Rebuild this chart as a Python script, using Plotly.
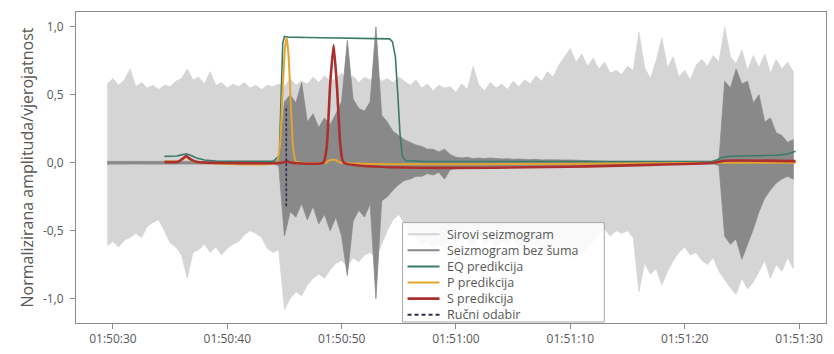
import numpy as np
import pandas as pd
import plotly.graph_objects as go

# ---------------------------------------------------------------------------
# Data (seconds after 01:50:00); seismogram traces sampled every 0.5 s as
# upper / lower envelope of the normalised amplitude.
# ---------------------------------------------------------------------------
BASE = pd.Timestamp("2021-01-01 01:50:00")
T_START = 29.5
T_STEP = 0.5

raw_upper = [
    0.58, 0.62, 0.57, 0.61, 0.69, 0.56, 0.59, 0.55, 0.57, 0.54,
    0.57, 0.56, 0.60, 0.62, 0.69, 0.61, 0.63, 0.58, 0.67, 0.57,
    0.59, 0.55, 0.58, 0.56, 0.59, 0.55, 0.57, 0.54, 0.57, 0.56,
    0.58, 0.56, 0.62, 0.57, 0.60, 0.58, 0.63, 0.59, 0.64, 0.60,
    0.62, 0.66, 0.60, 0.64, 0.59, 0.63, 0.61, 0.65, 0.60, 0.62,
    0.59, 0.63, 0.60, 0.57, 0.61, 0.55, 0.58, 0.53, 0.57, 0.55,
    0.56, 0.52, 0.58, 0.54, 0.71, 0.57, 0.53, 0.59, 0.55, 0.58,
    0.54, 0.60, 0.56, 0.61, 0.58, 0.64, 0.60, 0.67, 0.63, 0.72,
    0.78, 0.84, 0.74, 0.80, 0.71, 0.77, 0.69, 0.74, 0.66, 0.68,
    0.65, 0.71, 0.68, 0.96, 0.70, 0.62, 0.75, 0.92, 0.70, 0.78,
    0.63, 0.68, 0.61, 0.72, 0.76, 0.71, 0.79, 0.74, 1.00, 0.78,
    0.73, 0.83, 0.68, 0.79, 0.70, 0.80, 0.66, 0.76, 0.69, 0.74,
    0.67,
]
raw_lower = [
    -0.61, -0.58, -0.62, -0.57, -0.55, -0.52, -0.55, -0.47, -0.44, -0.42,
    -0.50, -0.59, -0.62, -0.68, -0.85, -0.66, -0.64, -0.60, -0.66, -0.62,
    -0.68, -0.63, -0.60, -0.58, -0.53, -0.50, -0.52, -0.55, -0.63, -0.66,
    -0.64, -1.08, -1.00, -0.95, -0.98, -0.90, -0.85, -0.82, -0.85, -0.79,
    -0.74, -0.72, -0.76, -0.70, -0.73, -0.68, -0.66, -0.70, -0.60, -0.50,
    -0.42, -0.38, -0.45, -0.52, -0.56, -0.60, -0.58, -0.62, -0.60, -0.63,
    -0.55, -0.60, -0.52, -0.58, -0.62, -0.55, -0.60, -0.57, -0.63, -0.58,
    -0.60, -0.56, -0.62, -0.58, -0.64, -0.60, -0.66, -0.62, -0.68, -0.64,
    -0.66, -0.70, -0.65, -0.68, -0.62, -0.58, -0.52, -0.49, -0.54, -0.50,
    -0.52, -0.50, -0.55, -0.95, -0.74, -0.82, -0.78, -0.90, -0.80, -0.72,
    -0.66, -0.62, -0.68, -0.66, -0.72, -0.75, -0.70, -0.80, -0.86, -0.92,
    -0.97, -0.85, -0.93, -0.88, -0.80, -0.72, -0.85, -0.75, -0.80, -0.70,
    -0.78,
]
den_upper = [
    0.010, 0.010, 0.008, 0.010, 0.009, 0.010, 0.008, 0.010, 0.009, 0.010,
    0.010, 0.008, 0.010, 0.009, 0.010, 0.010, 0.008, 0.010, 0.009, 0.010,
    0.010, 0.008, 0.010, 0.009, 0.010, 0.010, 0.008, 0.010, 0.009, 0.010,
    0.02, 0.45, 0.50, 0.44, 0.59, 0.30, 0.36, 0.26, 0.33, 0.28,
    0.36, 0.45, 0.90, 0.47, 0.40, 0.38, 0.45, 1.00, 0.35, 0.30,
    0.23, 0.20, 0.17, 0.15, 0.13, 0.12, 0.10, 0.10, 0.08, 0.10,
    0.06, 0.040, 0.035, 0.040, 0.030, 0.035, 0.030, 0.035, 0.030, 0.028,
    0.030, 0.025, 0.028, 0.025, 0.022, 0.025, 0.020, 0.022, 0.020, 0.022,
    0.020, 0.020, 0.018, 0.020, 0.016, 0.015, 0.012, 0.010, 0.010, 0.010,
    0.010, 0.010, 0.008, 0.010, 0.009, 0.010, 0.010, 0.008, 0.010, 0.009,
    0.010, 0.010, 0.008, 0.010, 0.009, 0.010, 0.010, 0.02, 0.60, 0.55,
    0.69, 0.58, 0.60, 0.44, 0.50, 0.30, 0.33, 0.22, 0.20, 0.15,
    0.17,
]
den_lower = [
    -0.010, -0.010, -0.008, -0.010, -0.009, -0.010, -0.008, -0.010, -0.009, -0.010,
    -0.010, -0.008, -0.010, -0.009, -0.010, -0.010, -0.008, -0.010, -0.009, -0.010,
    -0.010, -0.008, -0.010, -0.009, -0.010, -0.010, -0.008, -0.010, -0.009, -0.010,
    -0.02, -0.54, -0.36, -0.40, -0.30, -0.42, -0.32, -0.45, -0.38, -0.50,
    -0.40, -0.54, -0.83, -0.43, -0.35, -0.40, -0.30, -1.00, -0.28, -0.25,
    -0.20, -0.16, -0.13, -0.12, -0.10, -0.10, -0.08, -0.09, -0.07, -0.12,
    -0.05, -0.040, -0.035, -0.030, -0.035, -0.030, -0.030, -0.028, -0.030, -0.025,
    -0.025, -0.022, -0.025, -0.020, -0.022, -0.020, -0.020, -0.018, -0.020, -0.018,
    -0.018, -0.016, -0.016, -0.015, -0.014, -0.012, -0.010, -0.010, -0.010, -0.010,
    -0.010, -0.010, -0.008, -0.010, -0.009, -0.010, -0.010, -0.008, -0.010, -0.009,
    -0.010, -0.010, -0.008, -0.010, -0.009, -0.010, -0.010, -0.02, -0.54, -0.60,
    -0.56, -0.71, -0.60, -0.49, -0.36, -0.26, -0.20, -0.15, -0.12, -0.10,
    -0.12,
]

# Model outputs (time in s, probability)
eq_t = [34.5, 35.0, 35.6, 36.0, 36.4, 36.8, 37.3, 38.0, 39.0, 41.0, 44.0,
        44.55, 44.7, 44.85, 45.0, 45.3, 47.0, 50.0, 53.0, 54.2, 54.45, 54.7,
        54.9, 55.1, 55.3, 55.6, 57.0, 65.0, 75.0, 82.3, 82.8, 83.3, 84.0,
        86.0, 88.0, 89.0, 89.7]
eq_v = [0.047, 0.048, 0.050, 0.058, 0.066, 0.055, 0.035, 0.020, 0.012, 0.010,
        0.010, 0.05, 0.45, 0.88, 0.93, 0.925, 0.922, 0.92, 0.915, 0.912, 0.89,
        0.78, 0.52, 0.22, 0.05, 0.015, 0.010, 0.008, 0.006, 0.008, 0.020,
        0.040, 0.048, 0.050, 0.055, 0.065, 0.085]

p_t = [34.5, 35.7, 36.1, 36.4, 36.8, 37.3, 44.3, 44.6, 44.85, 45.05, 45.2,
       45.35, 45.55, 45.75, 46.0, 48.6, 49.0, 49.5, 49.9, 82.5, 89.7]
p_v = [0.010, 0.010, 0.025, 0.040, 0.020, 0.005, 0.0, 0.12, 0.55, 0.85, 0.92,
       0.80, 0.45, 0.12, 0.01, 0.0, 0.02, 0.02, 0.0, 0.0, 0.0]

s_t = [34.5, 35.7, 36.1, 36.4, 36.8, 37.4, 44.8, 45.2, 45.6, 48.4, 48.7,
       49.0, 49.3, 49.6, 49.9, 50.2, 82.5, 83.5, 89.7]
s_v = [0.005, 0.008, 0.030, 0.050, 0.025, 0.005, 0.0, 0.01, 0.0, 0.0, 0.12,
       0.58, 0.867, 0.55, 0.12, 0.0, 0.0, 0.015, 0.012]

# Manual P pick and the vertical extent of its marker
pick_t = 45.16
pick_extent = [-0.32, 0.42]

y_tickvals = [-1.0, -0.5, 0.0, 0.5, 1.0]
y_ticktext = ["-1,0", "-0,5", "0,0", "0,5", "1,0"]
x_tick_seconds = [30, 40, 50, 60, 70, 80, 90]
x_ticktext = ["01:50:30", "01:50:40", "01:50:50", "01:51:00",
              "01:51:10", "01:51:20", "01:51:30"]

labels = ["Sirovi seizmogram", "Seizmogram bez šuma", "EQ predikcija",
          "P predikcija", "S predikcija", "Ručni odabir"]

# ---------------------------------------------------------------------------
W, H = 834, 354
M_L, M_R, M_T, M_B = 76, 7, 12, 23
PLOT_W = W - M_L - M_R
PLOT_H = H - M_T - M_B

C_RAW = "#d5d5d5"
C_DEN = "#898989"
C_EQ = "#3b7a6b"
C_P = "#e2a530"
C_S = "#ad2e2e"
C_PICK = "#2b2f4a"
FONT = "Open Sans"
TXT = "#585858"


def ts(sec):
    return BASE + pd.to_timedelta(np.asarray(sec, dtype=float), unit="s")


sample_t = T_START + T_STEP * np.arange(len(raw_upper))


def band(upper, lower):
    x = list(ts(sample_t)) + list(ts(sample_t[::-1]))
    y = list(upper) + list(lower[::-1])
    return x, y


fig = go.Figure()

for up, lo, col in [(raw_upper, raw_lower, C_RAW), (den_upper, den_lower, C_DEN)]:
    bx, by = band(up, lo)
    fig.add_trace(go.Scatter(x=bx, y=by, mode="lines", fill="toself",
                             fillcolor=col, line=dict(color=col, width=0.8),
                             showlegend=False, hoverinfo="skip"))

fig.add_trace(go.Scatter(x=ts(eq_t), y=eq_v, mode="lines",
                         line=dict(color=C_EQ, width=1.6), showlegend=False))
fig.add_trace(go.Scatter(x=ts(p_t), y=p_v, mode="lines",
                         line=dict(color=C_P, width=2, shape="spline", smoothing=0.5),
                         showlegend=False))
fig.add_trace(go.Scatter(x=ts(s_t), y=s_v, mode="lines",
                         line=dict(color=C_S, width=2.6, shape="spline", smoothing=0.5),
                         showlegend=False))
fig.add_trace(go.Scatter(x=ts([pick_t, pick_t]), y=pick_extent, mode="lines",
                         line=dict(color=C_PICK, width=1.6, dash="3px,2px"),
                         showlegend=False))


# ---------------------------------------------------------------------------
# Legend box drawn in the lower middle of the axes (pixel layout -> paper)
# ---------------------------------------------------------------------------
def px_x(px):
    return (px - M_L) / PLOT_W


def px_y(py):
    return (H - M_B - py) / PLOT_H


LEG_LEFT, LEG_TOP, LEG_RIGHT, LEG_BOTTOM = 403, 228, 605, 330
ROW0, ROW_STEP = 240.0, 16.5
SAMPLE_X0, SAMPLE_X1, TEXT_X = 408, 440, 446

legend_styles = [
    dict(color=C_RAW, width=2),
    dict(color=C_DEN, width=2),
    dict(color=C_EQ, width=2),
    dict(color=C_P, width=2),
    dict(color=C_S, width=2.6),
    dict(color=C_PICK, width=2, dash="4px,3px"),
]

shapes = [dict(type="rect", xref="paper", yref="paper",
               x0=px_x(LEG_LEFT), x1=px_x(LEG_RIGHT),
               y0=px_y(LEG_BOTTOM), y1=px_y(LEG_TOP),
               fillcolor="rgba(255,255,255,0.85)",
               line=dict(color="#a8a8a8", width=1))]
annotations = []
for k, (name, style) in enumerate(zip(labels, legend_styles)):
    row_y = px_y(ROW0 + k * ROW_STEP)
    shapes.append(dict(type="line", xref="paper", yref="paper",
                       x0=px_x(SAMPLE_X0), x1=px_x(SAMPLE_X1),
                       y0=row_y, y1=row_y, line=style))
    annotations.append(dict(xref="paper", yref="paper", x=px_x(TEXT_X), y=row_y,
                            xanchor="left", yanchor="middle", showarrow=False,
                            borderpad=0, text=name,
                            font=dict(family=FONT, size=12.5, color=TXT)))

axis_common = dict(showline=True, mirror=True, linecolor="#8c8c8c", linewidth=1,
                   ticks="outside", ticklen=5, tickcolor="#8c8c8c",
                   showgrid=False, zeroline=False,
                   tickfont=dict(family=FONT, size=12, color=TXT))

fig.update_layout(
    width=W, height=H, autosize=False,
    margin=dict(l=M_L, r=M_R, t=M_T, b=M_B),
    paper_bgcolor="white", plot_bgcolor="white",
    font=dict(family=FONT, color=TXT),
    xaxis=dict(type="date", range=[ts(26.77), ts(92.36)],
               tickvals=list(ts(x_tick_seconds)), ticktext=x_ticktext,
               **axis_common),
    yaxis=dict(range=[-1.18, 1.11], tickvals=y_tickvals, ticktext=y_ticktext,
               ticklabelstandoff=4,
               title=dict(text="Normalizirana amplituda/vjerojatnost",
                          font=dict(family=FONT, size=16, color=TXT),
                          standoff=5),
               **axis_common),
    shapes=shapes,
    annotations=annotations,
    showlegend=False,
)

fig.write_html("out.html")
